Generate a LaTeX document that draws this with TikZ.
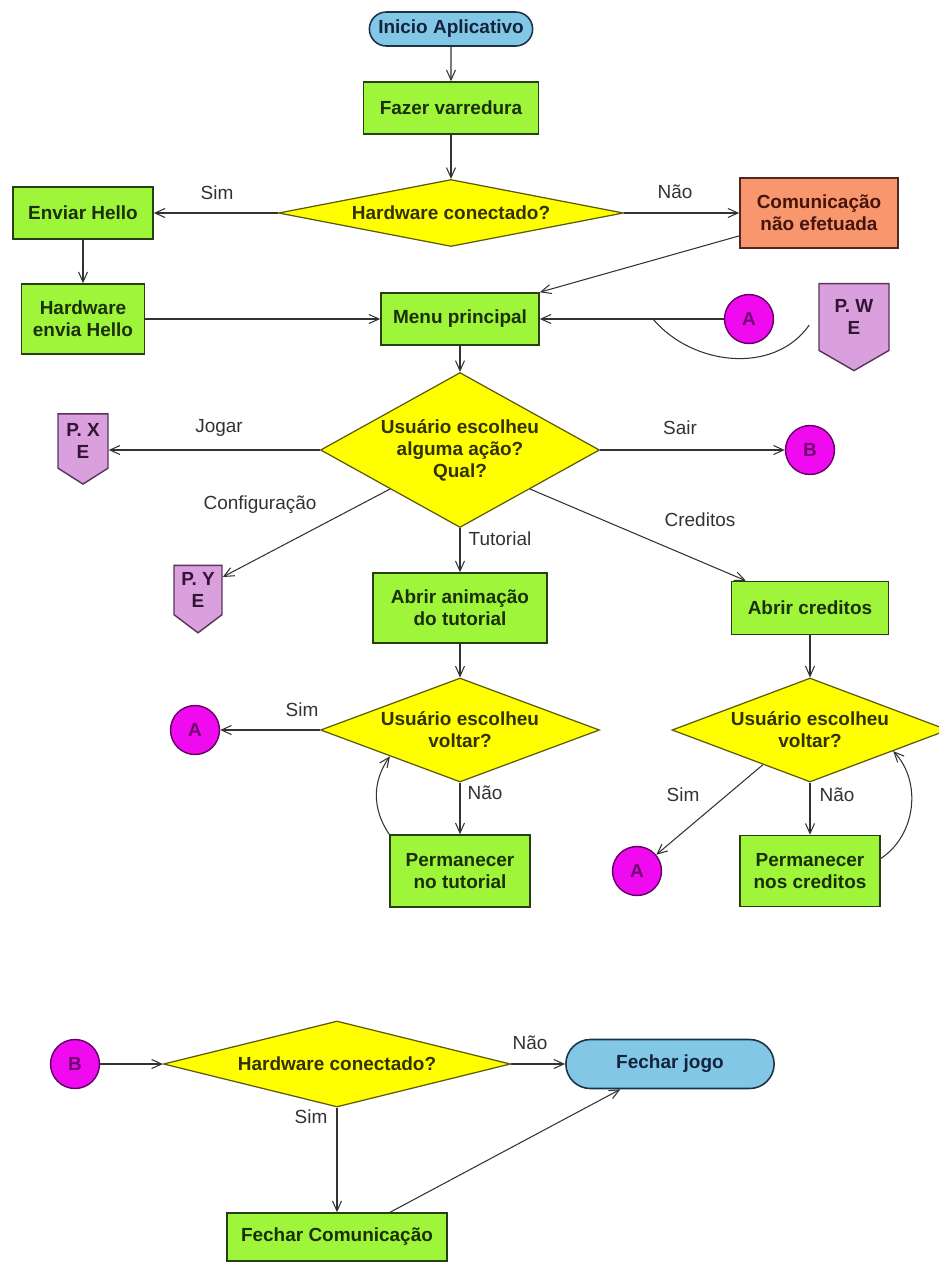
\documentclass[tikz,border=0pt]{standalone}
\usepackage{fontspec}
\setmainfont{Liberation Sans}
\usetikzlibrary{shapes.geometric, shapes.misc, shapes.symbols, arrows.meta, calc}

\definecolor{verde}{RGB}{158,245,58}
\definecolor{bordaverde}{RGB}{40,62,20}
\definecolor{textoverde}{RGB}{28,48,8}
\definecolor{amarelo}{RGB}{255,255,0}
\definecolor{bordaamarelo}{RGB}{90,90,10}
\definecolor{textoamarelo}{RGB}{50,50,0}
\definecolor{laranja}{RGB}{248,150,110}
\definecolor{bordalaranja}{RGB}{80,40,30}
\definecolor{textolaranja}{RGB}{70,20,10}
\definecolor{azul}{RGB}{130,200,230}
\definecolor{bordaazul}{RGB}{30,50,70}
\definecolor{textoazul}{RGB}{20,35,60}
\definecolor{magenta}{RGB}{240,10,240}
\definecolor{bordamagenta}{RGB}{100,0,100}
\definecolor{textomagenta}{RGB}{110,0,110}
\definecolor{lilas}{RGB}{218,160,222}
\definecolor{bordalilas}{RGB}{90,50,90}
\definecolor{textolilas}{RGB}{50,20,55}
\definecolor{linha}{RGB}{50,50,50}

\begin{document}
\begin{tikzpicture}[x = 0.02cm, y = -0.02cm,
                    negrito/.style = {font = \fontsize{10.8pt}{12.5pt}\selectfont\bfseries, align = center},
                    caixa/.style = {negrito, rectangle, draw = bordaverde, line width = 0.9pt, fill = verde, text = textoverde, inner sep = 1pt},
                    alerta/.style = {caixa, draw = bordalaranja, fill = laranja, text = textolaranja},
                    decisao/.style = {negrito, diamond, draw = bordaamarelo, line width = 0.7pt, fill = amarelo, text = textoamarelo, inner sep = 0pt},
                    terminal/.style = {negrito, rounded rectangle, draw = bordaazul, line width = 0.9pt, fill = azul, text = textoazul},
                    conector/.style = {negrito, circle, draw = bordamagenta, line width = 0.8pt, fill = magenta, text = textomagenta, minimum size = 0.98cm, inner sep = 0pt},
                    pagina/.style = {negrito, signal, signal to = south, draw = bordalilas, line width = 0.8pt, fill = lilas, text = textolilas, inner sep = 0pt},
                    seta/.style = {draw = linha, line width = 0.6pt, -{Straight Barb[length = 2mm, width = 1.8mm]}},
                    curva/.style = {draw = linha, line width = 0.6pt},
                    rotulo/.style = {font = \fontsize{10.8pt}{12.5pt}\selectfont, text = linha, inner sep = 0pt}]
                    \useasboundingbox (0, 0) rectangle (939, 1262);

                    \node[terminal, minimum width = 3.5cm, minimum height = 0.68cm] (inicio_app) at (451, 29) {Inicio Aplicativo};
                    \node[caixa, minimum width = 3.5cm, minimum height = 1.04cm] (fazer_varredura) at (451, 108) {Fazer varredura};
                    \node[decisao, minimum width = 6.9cm, minimum height = 1.34cm, aspect = 5] (hw_conectado) at (451, 213) {Hardware conectado?};
                    \node[caixa, minimum width = 2.8cm, minimum height = 1.04cm] (enviar_hello) at (83, 213) {Enviar Hello};
                    \node[alerta, minimum width = 3.16cm, minimum height = 1.4cm] (com_falha) at (819, 213) {Comunicação\\não efetuada};
                    \node[caixa, minimum width = 2.46cm, minimum height = 1.4cm] (hw_hello) at (83, 319) {Hardware\\envia Hello};
                    \node[caixa, minimum width = 3.16cm, minimum height = 1.04cm] (menu) at (460, 319) {Menu principal};
                    \node[conector] (con_a1) at (749, 319) {A};
                    \node[pagina, minimum width = 1.4cm, minimum height = 1.56cm, signal pointer angle = 120] (pag_w) at (854, 317) {P. W\\E};

                    \node[decisao, minimum width = 5.58cm, minimum height = 3.1cm, aspect = 1.8] (menu_acao) at (460, 450) {Usuário escolheu\\alguma ação?\\Qual?};
                    \node[pagina, minimum width = 1cm, minimum height = 1.3cm, signal pointer angle = 115] (pag_x) at (83, 441) {P. X\\E};
                    \node[conector] (con_b1) at (810, 450) {B};
                    \node[pagina, minimum width = 0.96cm, minimum height = 1.24cm, signal pointer angle = 106] (pag_y) at (198, 590) {P. Y\\E};
                    \node[caixa, minimum width = 3.48cm, minimum height = 1.4cm] (abrir_tutorial) at (460, 608) {Abrir animação\\do tutorial};
                    \node[caixa, minimum width = 3.14cm, minimum height = 1.06cm] (abrir_creditos) at (810, 608) {Abrir creditos};

                    \node[decisao, minimum width = 5.58cm, minimum height = 2.08cm, aspect = 2.68] (voltar_tut) at (460, 730) {Usuário escolheu\\voltar?};
                    \node[conector] (con_a2) at (195, 730) {A};
                    \node[caixa, minimum width = 2.8cm, minimum height = 1.44cm] (perm_tut) at (460, 871) {Permanecer\\no tutorial};
                    \node[decisao, minimum width = 5.52cm, minimum height = 2.08cm, aspect = 2.65] (voltar_cred) at (810, 730) {Usuário escolheu\\voltar?};
                    \node[conector] (con_a3) at (637, 871) {A};
                    \node[caixa, minimum width = 2.8cm, minimum height = 1.42cm] (perm_cred) at (810, 871) {Permanecer\\nos creditos};

                    \node[conector] (con_b2) at (75, 1064) {B};
                    \node[decisao, minimum width = 6.94cm, minimum height = 1.72cm, aspect = 4] (hw_fim) at (337, 1064) {Hardware conectado?};
                    \node[terminal, minimum width = 4.4cm, minimum height = 0.98cm] (fechar_jogo) at (670, 1064) {Fechar jogo};
                    \node[caixa, minimum width = 4.4cm, minimum height = 0.96cm] (fechar_com) at (337, 1237) {Fechar Comunicação};

                    \draw[seta] (inicio_app) -- (fazer_varredura);
                    \draw[seta] (fazer_varredura) -- (hw_conectado);
                    \draw[seta] (hw_conectado.west) -- (enviar_hello);
                    \node[rotulo] (sim_hw) at (217, 193) {Sim};
                    \draw[seta] (hw_conectado.east) -- (com_falha);
                    \node[rotulo] (nao_hw) at (675, 192) {Não};
                    \draw[seta] (enviar_hello) -- (hw_hello);
                    \draw[seta] (hw_hello) -- (menu);
                    \draw[seta] (com_falha.196) -- (menu.north east);
                    \draw[seta] (con_a1) -- (menu);

                    \coordinate (juncao_menu) at (653, 319);
                    \draw[curva] ([xshift = -0.18cm, yshift = -0.16cm]pag_w.west) to[out = 235, in = -50] (juncao_menu);

                    \draw[seta] (menu) -- (menu_acao);
                    \draw[seta] (menu_acao.west) -- (menu_acao.west -| pag_x.east);
                    \node[rotulo] (jogar) at (219, 428) {Jogar};
                    \draw[seta] (menu_acao.east) -- (con_b1);
                    \node[rotulo] (sair) at (680, 428) {Sair};
                    \draw[seta] (menu_acao.south west) -- (pag_y);
                    \node[rotulo] (config) at (260, 505) {Configuração};
                    \draw[seta] (menu_acao) -- (abrir_tutorial);
                    \node[rotulo] (tutorial) at (500, 539) {Tutorial};
                    \draw[seta] (menu_acao.south east) -- (abrir_creditos);
                    \node[rotulo] (creditos) at (700, 520) {Creditos};

                    \draw[seta] (abrir_tutorial) -- (voltar_tut);
                    \draw[seta] (voltar_tut.west) -- (con_a2);
                    \node[rotulo] (sim_tut) at (302, 710) {Sim};
                    \draw[seta] (voltar_tut) -- (perm_tut);
                    \node[rotulo] (nao_tut) at (485, 793) {Não};
                    \draw[seta] (perm_tut.north west) to[bend left = 35] (voltar_tut.south west);

                    \draw[seta] (abrir_creditos) -- (voltar_cred);
                    \draw[seta] ($(voltar_cred.south)!0.34!(voltar_cred.west)$) -- (con_a3);
                    \node[rotulo] (sim_cred) at (683, 795) {Sim};
                    \draw[seta] (voltar_cred) -- (perm_cred);
                    \node[rotulo] (nao_cred) at (837, 795) {Não};
                    \draw[seta] (perm_cred.10) to[bend right = 50] ($(voltar_cred.south)!0.6!(voltar_cred.east)$);

                    \draw[seta] (con_b2) -- (hw_fim);
                    \draw[seta] (hw_fim.east) -- (fechar_jogo);
                    \node[rotulo] (nao_fim) at (530, 1043) {Não};
                    \draw[seta] (hw_fim) -- (fechar_com);
                    \node[rotulo] (sim_fim) at (311, 1117) {Sim};
                    \draw[seta] (fechar_com.25) -- (fechar_jogo.207);
                \end{tikzpicture}
\end{document}
